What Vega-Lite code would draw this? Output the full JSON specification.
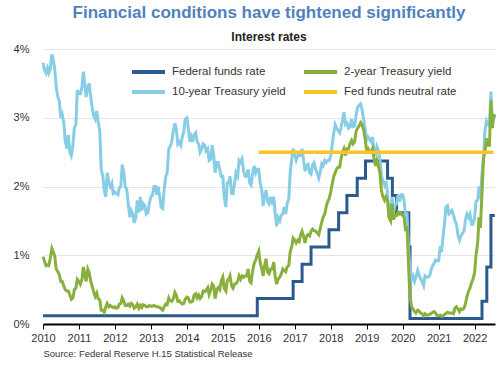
{
  "$schema": "https://vega.github.io/schema/vega-lite/v6.json",
  "width": 452,
  "height": 275,
  "autosize": {"type": "none"},
  "padding": {"left": 43, "top": 49, "right": 5, "bottom": 41},
  "background": "white",
  "config": {"font": "Liberation Sans", "view": {"stroke": null}},
  "title": {
    "text": "Financial conditions have tightened significantly",
    "subtitle": "Interest rates",
    "fontSize": 17,
    "fontWeight": "bold",
    "color": "#4f81bd",
    "subtitleFontSize": 12,
    "subtitleFontWeight": "bold",
    "subtitleColor": "#222222",
    "anchor": "middle",
    "offset": -1,
    "subtitlePadding": 10
  },
  "datasets": {
    "ff": [
      {"d": "2010-01-01", "v": 0.12, "k": "ff"},
      {"d": "2015-12-17", "v": 0.37, "k": "ff"},
      {"d": "2016-12-15", "v": 0.62, "k": "ff"},
      {"d": "2017-03-16", "v": 0.87, "k": "ff"},
      {"d": "2017-06-15", "v": 1.12, "k": "ff"},
      {"d": "2017-12-14", "v": 1.37, "k": "ff"},
      {"d": "2018-03-22", "v": 1.62, "k": "ff"},
      {"d": "2018-06-14", "v": 1.87, "k": "ff"},
      {"d": "2018-09-27", "v": 2.12, "k": "ff"},
      {"d": "2018-12-20", "v": 2.37, "k": "ff"},
      {"d": "2019-08-01", "v": 2.12, "k": "ff"},
      {"d": "2019-09-19", "v": 1.87, "k": "ff"},
      {"d": "2019-10-31", "v": 1.62, "k": "ff"},
      {"d": "2020-03-04", "v": 1.12, "k": "ff"},
      {"d": "2020-03-16", "v": 0.08, "k": "ff"},
      {"d": "2022-03-17", "v": 0.33, "k": "ff"},
      {"d": "2022-05-05", "v": 0.83, "k": "ff"},
      {"d": "2022-06-16", "v": 1.58, "k": "ff"},
      {"d": "2022-07-25", "v": 1.58, "k": "ff"}
    ],
    "nr": [
      {"d": "2016-01-01", "v": 2.5, "k": "nr"},
      {"d": "2022-07-10", "v": 2.5, "k": "nr"}
    ],
    "y": [
      {"d":"2010-01-01","t10":3.80,"t2":0.98},
      {"d":"2010-01-15","t10":3.70,"t2":0.92},
      {"d":"2010-02-01","t10":3.65,"t2":0.85},
      {"d":"2010-02-15","t10":3.72,"t2":0.86},
      {"d":"2010-03-01","t10":3.65,"t2":0.85},
      {"d":"2010-03-15","t10":3.70,"t2":0.95},
      {"d":"2010-04-01","t10":3.92,"t2":1.10},
      {"d":"2010-04-15","t10":3.85,"t2":1.05},
      {"d":"2010-05-01","t10":3.70,"t2":0.98},
      {"d":"2010-05-15","t10":3.45,"t2":0.80},
      {"d":"2010-06-01","t10":3.30,"t2":0.76},
      {"d":"2010-06-15","t10":3.25,"t2":0.72},
      {"d":"2010-07-01","t10":3.00,"t2":0.62},
      {"d":"2010-07-15","t10":3.05,"t2":0.62},
      {"d":"2010-08-01","t10":2.92,"t2":0.55},
      {"d":"2010-08-15","t10":2.65,"t2":0.50},
      {"d":"2010-09-01","t10":2.55,"t2":0.48},
      {"d":"2010-09-15","t10":2.75,"t2":0.48},
      {"d":"2010-10-01","t10":2.50,"t2":0.42},
      {"d":"2010-10-15","t10":2.45,"t2":0.36},
      {"d":"2010-11-01","t10":2.60,"t2":0.38},
      {"d":"2010-11-15","t10":2.85,"t2":0.50},
      {"d":"2010-12-01","t10":2.90,"t2":0.52},
      {"d":"2010-12-15","t10":3.40,"t2":0.65},
      {"d":"2011-01-01","t10":3.35,"t2":0.62},
      {"d":"2011-01-15","t10":3.35,"t2":0.58},
      {"d":"2011-02-01","t10":3.45,"t2":0.65},
      {"d":"2011-02-15","t10":3.67,"t2":0.83},
      {"d":"2011-03-01","t10":3.50,"t2":0.72},
      {"d":"2011-03-15","t10":3.30,"t2":0.62},
      {"d":"2011-04-01","t10":3.45,"t2":0.80},
      {"d":"2011-04-15","t10":3.50,"t2":0.75},
      {"d":"2011-05-01","t10":3.30,"t2":0.62},
      {"d":"2011-05-15","t10":3.15,"t2":0.55},
      {"d":"2011-06-01","t10":3.02,"t2":0.46},
      {"d":"2011-06-15","t10":2.98,"t2":0.40},
      {"d":"2011-07-01","t10":3.10,"t2":0.45},
      {"d":"2011-07-15","t10":2.95,"t2":0.37},
      {"d":"2011-08-01","t10":2.80,"t2":0.35},
      {"d":"2011-08-15","t10":2.25,"t2":0.20},
      {"d":"2011-09-01","t10":2.15,"t2":0.20},
      {"d":"2011-09-15","t10":1.95,"t2":0.17},
      {"d":"2011-10-01","t10":1.85,"t2":0.25},
      {"d":"2011-10-15","t10":2.20,"t2":0.30},
      {"d":"2011-11-01","t10":2.05,"t2":0.25},
      {"d":"2011-11-15","t10":2.00,"t2":0.27},
      {"d":"2011-12-01","t10":2.05,"t2":0.25},
      {"d":"2011-12-15","t10":1.90,"t2":0.24},
      {"d":"2012-01-01","t10":1.92,"t2":0.25},
      {"d":"2012-01-15","t10":1.90,"t2":0.23},
      {"d":"2012-02-01","t10":1.88,"t2":0.24},
      {"d":"2012-02-15","t10":1.98,"t2":0.29},
      {"d":"2012-03-01","t10":2.00,"t2":0.30},
      {"d":"2012-03-15","t10":2.32,"t2":0.38},
      {"d":"2012-04-01","t10":2.20,"t2":0.33},
      {"d":"2012-04-15","t10":2.00,"t2":0.27},
      {"d":"2012-05-01","t10":1.95,"t2":0.27},
      {"d":"2012-05-15","t10":1.75,"t2":0.29},
      {"d":"2012-06-01","t10":1.55,"t2":0.26},
      {"d":"2012-06-15","t10":1.65,"t2":0.30},
      {"d":"2012-07-01","t10":1.60,"t2":0.28},
      {"d":"2012-07-15","t10":1.47,"t2":0.23},
      {"d":"2012-08-01","t10":1.55,"t2":0.25},
      {"d":"2012-08-15","t10":1.80,"t2":0.29},
      {"d":"2012-09-01","t10":1.62,"t2":0.23},
      {"d":"2012-09-15","t10":1.85,"t2":0.27},
      {"d":"2012-10-01","t10":1.65,"t2":0.24},
      {"d":"2012-10-15","t10":1.75,"t2":0.28},
      {"d":"2012-11-01","t10":1.72,"t2":0.27},
      {"d":"2012-11-15","t10":1.60,"t2":0.25},
      {"d":"2012-12-01","t10":1.62,"t2":0.25},
      {"d":"2012-12-15","t10":1.75,"t2":0.27},
      {"d":"2013-01-01","t10":1.85,"t2":0.26},
      {"d":"2013-01-15","t10":1.87,"t2":0.26},
      {"d":"2013-02-01","t10":2.00,"t2":0.27},
      {"d":"2013-02-15","t10":2.00,"t2":0.26},
      {"d":"2013-03-01","t10":1.88,"t2":0.25},
      {"d":"2013-03-15","t10":2.00,"t2":0.25},
      {"d":"2013-04-01","t10":1.85,"t2":0.24},
      {"d":"2013-04-15","t10":1.70,"t2":0.22},
      {"d":"2013-05-01","t10":1.68,"t2":0.20},
      {"d":"2013-05-15","t10":1.95,"t2":0.25},
      {"d":"2013-06-01","t10":2.15,"t2":0.29},
      {"d":"2013-06-15","t10":2.20,"t2":0.28},
      {"d":"2013-07-01","t10":2.55,"t2":0.38},
      {"d":"2013-07-15","t10":2.58,"t2":0.34},
      {"d":"2013-08-01","t10":2.65,"t2":0.33},
      {"d":"2013-08-15","t10":2.80,"t2":0.36},
      {"d":"2013-09-01","t10":2.92,"t2":0.46},
      {"d":"2013-09-15","t10":2.85,"t2":0.42},
      {"d":"2013-10-01","t10":2.62,"t2":0.33},
      {"d":"2013-10-15","t10":2.65,"t2":0.34},
      {"d":"2013-11-01","t10":2.60,"t2":0.31},
      {"d":"2013-11-15","t10":2.72,"t2":0.29},
      {"d":"2013-12-01","t10":2.80,"t2":0.30},
      {"d":"2013-12-15","t10":2.98,"t2":0.36},
      {"d":"2014-01-01","t10":3.00,"t2":0.39},
      {"d":"2014-01-15","t10":2.85,"t2":0.38},
      {"d":"2014-02-01","t10":2.65,"t2":0.32},
      {"d":"2014-02-15","t10":2.72,"t2":0.32},
      {"d":"2014-03-01","t10":2.65,"t2":0.33},
      {"d":"2014-03-15","t10":2.75,"t2":0.42},
      {"d":"2014-04-01","t10":2.78,"t2":0.44},
      {"d":"2014-04-15","t10":2.65,"t2":0.38},
      {"d":"2014-05-01","t10":2.62,"t2":0.42},
      {"d":"2014-05-15","t10":2.50,"t2":0.37},
      {"d":"2014-06-01","t10":2.55,"t2":0.40},
      {"d":"2014-06-15","t10":2.62,"t2":0.48},
      {"d":"2014-07-01","t10":2.60,"t2":0.47},
      {"d":"2014-07-15","t10":2.52,"t2":0.49},
      {"d":"2014-08-01","t10":2.55,"t2":0.53},
      {"d":"2014-08-15","t10":2.38,"t2":0.43},
      {"d":"2014-09-01","t10":2.40,"t2":0.50},
      {"d":"2014-09-15","t10":2.60,"t2":0.58},
      {"d":"2014-10-01","t10":2.45,"t2":0.55},
      {"d":"2014-10-15","t10":2.20,"t2":0.37},
      {"d":"2014-11-01","t10":2.35,"t2":0.50},
      {"d":"2014-11-15","t10":2.35,"t2":0.53},
      {"d":"2014-12-01","t10":2.25,"t2":0.50},
      {"d":"2014-12-15","t10":2.15,"t2":0.62},
      {"d":"2015-01-01","t10":2.15,"t2":0.68},
      {"d":"2015-01-15","t10":1.85,"t2":0.52},
      {"d":"2015-02-01","t10":1.70,"t2":0.48},
      {"d":"2015-02-15","t10":2.05,"t2":0.63},
      {"d":"2015-03-01","t10":2.05,"t2":0.65},
      {"d":"2015-03-15","t10":2.15,"t2":0.70},
      {"d":"2015-04-01","t10":1.90,"t2":0.55},
      {"d":"2015-04-15","t10":1.90,"t2":0.52},
      {"d":"2015-05-01","t10":2.05,"t2":0.58},
      {"d":"2015-05-15","t10":2.20,"t2":0.59},
      {"d":"2015-06-01","t10":2.15,"t2":0.62},
      {"d":"2015-06-15","t10":2.38,"t2":0.70},
      {"d":"2015-07-01","t10":2.35,"t2":0.65},
      {"d":"2015-07-15","t10":2.40,"t2":0.70},
      {"d":"2015-08-01","t10":2.22,"t2":0.68},
      {"d":"2015-08-15","t10":2.15,"t2":0.70},
      {"d":"2015-09-01","t10":2.15,"t2":0.70},
      {"d":"2015-09-15","t10":2.25,"t2":0.80},
      {"d":"2015-10-01","t10":2.05,"t2":0.62},
      {"d":"2015-10-15","t10":2.02,"t2":0.60},
      {"d":"2015-11-01","t10":2.20,"t2":0.78},
      {"d":"2015-11-15","t10":2.30,"t2":0.88},
      {"d":"2015-12-01","t10":2.20,"t2":0.93},
      {"d":"2015-12-15","t10":2.25,"t2":1.00},
      {"d":"2016-01-01","t10":2.25,"t2":1.06},
      {"d":"2016-01-15","t10":2.05,"t2":0.90},
      {"d":"2016-02-01","t10":1.95,"t2":0.80},
      {"d":"2016-02-15","t10":1.72,"t2":0.70},
      {"d":"2016-03-01","t10":1.85,"t2":0.85},
      {"d":"2016-03-15","t10":1.95,"t2":0.95},
      {"d":"2016-04-01","t10":1.78,"t2":0.75},
      {"d":"2016-04-15","t10":1.75,"t2":0.73},
      {"d":"2016-05-01","t10":1.85,"t2":0.80},
      {"d":"2016-05-15","t10":1.78,"t2":0.80},
      {"d":"2016-06-01","t10":1.85,"t2":0.90},
      {"d":"2016-06-15","t10":1.62,"t2":0.70},
      {"d":"2016-07-01","t10":1.42,"t2":0.58},
      {"d":"2016-07-15","t10":1.55,"t2":0.65},
      {"d":"2016-08-01","t10":1.50,"t2":0.68},
      {"d":"2016-08-15","t10":1.58,"t2":0.72},
      {"d":"2016-09-01","t10":1.60,"t2":0.80},
      {"d":"2016-09-15","t10":1.70,"t2":0.78},
      {"d":"2016-10-01","t10":1.60,"t2":0.76},
      {"d":"2016-10-15","t10":1.75,"t2":0.83},
      {"d":"2016-11-01","t10":1.82,"t2":0.85},
      {"d":"2016-11-15","t10":2.20,"t2":1.05},
      {"d":"2016-12-01","t10":2.40,"t2":1.12},
      {"d":"2016-12-15","t10":2.55,"t2":1.25},
      {"d":"2017-01-01","t10":2.45,"t2":1.22},
      {"d":"2017-01-15","t10":2.38,"t2":1.18},
      {"d":"2017-02-01","t10":2.45,"t2":1.22},
      {"d":"2017-02-15","t10":2.45,"t2":1.20},
      {"d":"2017-03-01","t10":2.45,"t2":1.30},
      {"d":"2017-03-15","t10":2.55,"t2":1.35},
      {"d":"2017-04-01","t10":2.38,"t2":1.27},
      {"d":"2017-04-15","t10":2.22,"t2":1.18},
      {"d":"2017-05-01","t10":2.30,"t2":1.28},
      {"d":"2017-05-15","t10":2.32,"t2":1.30},
      {"d":"2017-06-01","t10":2.20,"t2":1.28},
      {"d":"2017-06-15","t10":2.18,"t2":1.35},
      {"d":"2017-07-01","t10":2.32,"t2":1.38},
      {"d":"2017-07-15","t10":2.35,"t2":1.36},
      {"d":"2017-08-01","t10":2.25,"t2":1.35},
      {"d":"2017-08-15","t10":2.20,"t2":1.33},
      {"d":"2017-09-01","t10":2.12,"t2":1.30},
      {"d":"2017-09-15","t10":2.20,"t2":1.38},
      {"d":"2017-10-01","t10":2.33,"t2":1.48},
      {"d":"2017-10-15","t10":2.30,"t2":1.55},
      {"d":"2017-11-01","t10":2.38,"t2":1.60},
      {"d":"2017-11-15","t10":2.35,"t2":1.70},
      {"d":"2017-12-01","t10":2.38,"t2":1.78},
      {"d":"2017-12-15","t10":2.38,"t2":1.82},
      {"d":"2018-01-01","t10":2.45,"t2":1.92},
      {"d":"2018-01-15","t10":2.60,"t2":2.03},
      {"d":"2018-02-01","t10":2.78,"t2":2.15},
      {"d":"2018-02-15","t10":2.90,"t2":2.20},
      {"d":"2018-03-01","t10":2.85,"t2":2.25},
      {"d":"2018-03-15","t10":2.82,"t2":2.28},
      {"d":"2018-04-01","t10":2.78,"t2":2.28},
      {"d":"2018-04-15","t10":2.85,"t2":2.40},
      {"d":"2018-05-01","t10":2.97,"t2":2.50},
      {"d":"2018-05-15","t10":3.08,"t2":2.55},
      {"d":"2018-06-01","t10":2.90,"t2":2.45},
      {"d":"2018-06-15","t10":2.92,"t2":2.55},
      {"d":"2018-07-01","t10":2.85,"t2":2.55},
      {"d":"2018-07-15","t10":2.87,"t2":2.62},
      {"d":"2018-08-01","t10":2.98,"t2":2.67},
      {"d":"2018-08-15","t10":2.87,"t2":2.62},
      {"d":"2018-09-01","t10":2.88,"t2":2.65},
      {"d":"2018-09-15","t10":3.03,"t2":2.80},
      {"d":"2018-10-01","t10":3.15,"t2":2.85},
      {"d":"2018-10-15","t10":3.18,"t2":2.88},
      {"d":"2018-11-01","t10":3.20,"t2":2.93},
      {"d":"2018-11-15","t10":3.12,"t2":2.90},
      {"d":"2018-12-01","t10":2.98,"t2":2.82},
      {"d":"2018-12-15","t10":2.85,"t2":2.70},
      {"d":"2019-01-01","t10":2.68,"t2":2.52},
      {"d":"2019-01-15","t10":2.72,"t2":2.55},
      {"d":"2019-02-01","t10":2.68,"t2":2.50},
      {"d":"2019-02-15","t10":2.65,"t2":2.50},
      {"d":"2019-03-01","t10":2.72,"t2":2.55},
      {"d":"2019-03-15","t10":2.55,"t2":2.42},
      {"d":"2019-04-01","t10":2.45,"t2":2.30},
      {"d":"2019-04-15","t10":2.58,"t2":2.38},
      {"d":"2019-05-01","t10":2.52,"t2":2.30},
      {"d":"2019-05-15","t10":2.40,"t2":2.20},
      {"d":"2019-06-01","t10":2.15,"t2":1.93},
      {"d":"2019-06-15","t10":2.08,"t2":1.85},
      {"d":"2019-07-01","t10":2.02,"t2":1.80},
      {"d":"2019-07-15","t10":2.08,"t2":1.85},
      {"d":"2019-08-01","t10":1.90,"t2":1.80},
      {"d":"2019-08-15","t10":1.58,"t2":1.55},
      {"d":"2019-09-01","t10":1.50,"t2":1.50},
      {"d":"2019-09-15","t10":1.85,"t2":1.75},
      {"d":"2019-10-01","t10":1.62,"t2":1.52},
      {"d":"2019-10-15","t10":1.72,"t2":1.58},
      {"d":"2019-11-01","t10":1.75,"t2":1.58},
      {"d":"2019-11-15","t10":1.88,"t2":1.63},
      {"d":"2019-12-01","t10":1.78,"t2":1.60},
      {"d":"2019-12-15","t10":1.88,"t2":1.62},
      {"d":"2020-01-01","t10":1.88,"t2":1.58},
      {"d":"2020-01-15","t10":1.80,"t2":1.56},
      {"d":"2020-02-01","t10":1.55,"t2":1.35},
      {"d":"2020-02-15","t10":1.58,"t2":1.42},
      {"d":"2020-03-01","t10":1.10,"t2":0.85},
      {"d":"2020-03-15","t10":0.80,"t2":0.40},
      {"d":"2020-04-01","t10":0.65,"t2":0.25},
      {"d":"2020-04-15","t10":0.70,"t2":0.22},
      {"d":"2020-05-01","t10":0.62,"t2":0.18},
      {"d":"2020-05-15","t10":0.68,"t2":0.16},
      {"d":"2020-06-01","t10":0.78,"t2":0.20},
      {"d":"2020-06-15","t10":0.72,"t2":0.19},
      {"d":"2020-07-01","t10":0.66,"t2":0.16},
      {"d":"2020-07-15","t10":0.62,"t2":0.15},
      {"d":"2020-08-01","t10":0.56,"t2":0.12},
      {"d":"2020-08-15","t10":0.70,"t2":0.15},
      {"d":"2020-09-01","t10":0.68,"t2":0.13},
      {"d":"2020-09-15","t10":0.68,"t2":0.13},
      {"d":"2020-10-01","t10":0.70,"t2":0.14},
      {"d":"2020-10-15","t10":0.78,"t2":0.15},
      {"d":"2020-11-01","t10":0.85,"t2":0.17},
      {"d":"2020-11-15","t10":0.88,"t2":0.18},
      {"d":"2020-12-01","t10":0.93,"t2":0.16},
      {"d":"2020-12-15","t10":0.92,"t2":0.12},
      {"d":"2021-01-01","t10":0.92,"t2":0.12},
      {"d":"2021-01-15","t10":1.10,"t2":0.13},
      {"d":"2021-02-01","t10":1.08,"t2":0.11},
      {"d":"2021-02-15","t10":1.28,"t2":0.12},
      {"d":"2021-03-01","t10":1.45,"t2":0.14},
      {"d":"2021-03-15","t10":1.70,"t2":0.15},
      {"d":"2021-04-01","t10":1.72,"t2":0.17},
      {"d":"2021-04-15","t10":1.60,"t2":0.16},
      {"d":"2021-05-01","t10":1.62,"t2":0.16},
      {"d":"2021-05-15","t10":1.65,"t2":0.16},
      {"d":"2021-06-01","t10":1.58,"t2":0.15},
      {"d":"2021-06-15","t10":1.50,"t2":0.23},
      {"d":"2021-07-01","t10":1.45,"t2":0.25},
      {"d":"2021-07-15","t10":1.30,"t2":0.22},
      {"d":"2021-08-01","t10":1.22,"t2":0.18},
      {"d":"2021-08-15","t10":1.28,"t2":0.22},
      {"d":"2021-09-01","t10":1.32,"t2":0.21},
      {"d":"2021-09-15","t10":1.35,"t2":0.23},
      {"d":"2021-10-01","t10":1.52,"t2":0.30},
      {"d":"2021-10-15","t10":1.60,"t2":0.40},
      {"d":"2021-11-01","t10":1.55,"t2":0.48},
      {"d":"2021-11-15","t10":1.60,"t2":0.52},
      {"d":"2021-12-01","t10":1.45,"t2":0.60},
      {"d":"2021-12-15","t10":1.45,"t2":0.65},
      {"d":"2022-01-01","t10":1.55,"t2":0.75},
      {"d":"2022-01-15","t10":1.78,"t2":1.00},
      {"d":"2022-02-01","t10":1.80,"t2":1.18},
      {"d":"2022-02-15","t10":2.00,"t2":1.55},
      {"d":"2022-03-01","t10":1.82,"t2":1.40},
      {"d":"2022-03-15","t10":2.15,"t2":1.85},
      {"d":"2022-04-01","t10":2.40,"t2":2.40},
      {"d":"2022-04-15","t10":2.80,"t2":2.50},
      {"d":"2022-05-01","t10":2.95,"t2":2.70},
      {"d":"2022-05-15","t10":2.90,"t2":2.60},
      {"d":"2022-06-01","t10":2.88,"t2":2.60},
      {"d":"2022-06-15","t10":3.38,"t2":3.25},
      {"d":"2022-07-01","t10":2.95,"t2":2.85},
      {"d":"2022-07-15","t10":2.98,"t2":3.05},
      {"d":"2022-07-25","t10":2.97,"t2":3.00}
    ]
  },
  "encoding": {
    "x": {
      "field": "d",
      "type": "temporal",
      "scale": {
        "type": "utc",
        "domain": [
          {"year": 2010, "month": 1, "date": 1, "utc": true},
          {"year": 2022, "month": 7, "date": 27, "utc": true}
        ]
      },
      "axis": {
        "tickCount": "year",
        "format": "%Y",
        "labelFlush": false,
        "labelFontSize": 11,
        "labelColor": "#333333",
        "labelPadding": 3,
        "tickSize": 5,
        "tickColor": "#000000",
        "domainColor": "#000000",
        "domainWidth": 2,
        "grid": false,
        "title": "Source: Federal Reserve H.15 Statistical Release",
        "titleFontSize": 9.5,
        "titleFontWeight": "normal",
        "titleColor": "#333333",
        "titleAnchor": "start",
        "titleAlign": "left",
        "titleX": 0,
        "titleY": 32.5,
        "titleBaseline": "alphabetic"
      }
    },
    "y": {
      "field": "v",
      "type": "quantitative",
      "scale": {"domain": [0, 4], "nice": false},
      "axis": {
        "values": [0, 1, 2, 3, 4],
        "labelExpr": "datum.value + '%'",
        "title": null,
        "domain": false,
        "ticks": false,
        "grid": true,
        "gridColor": "#e6e6e6",
        "labelFontSize": 11,
        "labelColor": "#333333",
        "labelPadding": 14
      }
    },
    "color": {
      "field": "k",
      "type": "nominal",
      "scale": {
        "domain": ["ff", "t10", "t2", "nr"],
        "range": ["#2c5a8c", "#87cde6", "#89b03c", "#fac328"]
      },
      "legend": {
        "title": null,
        "orient": "none",
        "legendX": 87,
        "legendY": 16,
        "columns": 2,
        "symbolType": "M-1,0H5.6",
        "symbolSize": 100,
        "symbolStrokeWidth": 4,
        "labelFontSize": 11.5,
        "labelColor": "#333333",
        "labelOffset": 28,
        "columnPadding": 10,
        "rowPadding": 4,
        "padding": 0,
        "labelExpr": "datum.label == 'ff' ? 'Federal funds rate' : datum.label == 't2' ? '2-year Treasury yield' : datum.label == 't10' ? '10-year Treasury yield' : 'Fed funds neutral rate'"
      }
    }
  },
  "layer": [
    {
      "data": {"name": "ff"},
      "mark": {"type": "line", "interpolate": "step-after", "strokeWidth": 3}
    },
    {
      "data": {"name": "y"},
      "transform": [{"fold": ["t10", "t2"], "as": ["k", "v"]}],
      "mark": {"type": "line", "strokeWidth": 3}
    },
    {
      "data": {"name": "nr"},
      "mark": {"type": "line", "strokeWidth": 3.5}
    }
  ]
}
